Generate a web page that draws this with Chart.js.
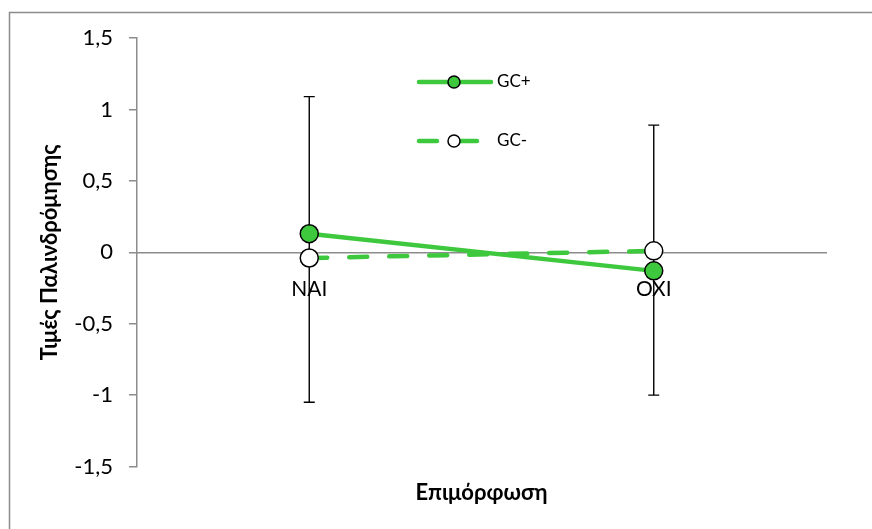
<!DOCTYPE html>
<html>
<head>
<meta charset="utf-8">
<script src="https://cdn.jsdelivr.net/npm/chart.js@4"></script>
<style>
  html, body { margin: 0; padding: 0; background: #fff; overflow: hidden; }
</style>
</head>
<body>
<canvas id="regChart" width="872" height="529"></canvas>
<script>
// values
const categories = ["ΝΑΙ", "ΟΧΙ"];
const gcPlus = [0.13, -0.13];
const gcMinus = [-0.04, 0.01];
const errLow = [-1.05, -1.00];
const errHigh = [1.09, 0.89];
const yTicks = [-1.5, -1, -0.5, 0, 0.5, 1, 1.5];

const green = "#3ec83e";
const axisGrey = "#8c8c8c";
const fontFamily = "Lato, 'Noto Sans', sans-serif";

// grey frame (only top and left edges show in the reference)
const frame = {
  id: "frame",
  beforeDraw(chart) {
    const ctx = chart.ctx;
    ctx.save();
    ctx.strokeStyle = axisGrey;
    ctx.lineWidth = 1.5;
    ctx.beginPath();
    ctx.moveTo(9.5, chart.height);
    ctx.lineTo(9.5, 12.5);
    ctx.lineTo(chart.width, 12.5);
    ctx.stroke();
    ctx.restore();
  }
};

// vertical error bars, one per category
const errorBars = {
  id: "errorBars",
  beforeDatasetsDraw(chart) {
    const { ctx, scales: { x, y } } = chart;
    ctx.save();
    ctx.strokeStyle = "#000";
    ctx.lineWidth = 1.4;
    categories.forEach((c, i) => {
      const px = x.getPixelForValue(i);
      const top = y.getPixelForValue(errHigh[i]);
      const bot = y.getPixelForValue(errLow[i]);
      ctx.beginPath();
      ctx.moveTo(px, top); ctx.lineTo(px, bot);
      ctx.moveTo(px - 5.5, top); ctx.lineTo(px + 5.5, top);
      ctx.moveTo(px - 5.5, bot); ctx.lineTo(px + 5.5, bot);
      ctx.stroke();
    });
    ctx.restore();
  }
};

// legend drawn inside the plot: line with marker, like the original
const lineLegend = {
  id: "lineLegend",
  afterDatasetsDraw(chart) {
    const ctx = chart.ctx;
    const area = chart.chartArea;
    const x0 = area.left + 282, x1 = area.left + 354, mx = area.left + 317;
    const rows = [area.top + 44, area.top + 103];
    ctx.save();
    chart.data.datasets.forEach((ds, i) => {
      const ly = rows[i];
      ctx.strokeStyle = ds.borderColor;
      ctx.lineWidth = ds.borderWidth;
      ctx.lineCap = "round";
      ctx.setLineDash(ds.borderDash || []);
      ctx.beginPath();
      ctx.moveTo(x0, ly); ctx.lineTo(x1, ly);
      ctx.stroke();
      ctx.setLineDash([]);
      ctx.beginPath();
      ctx.arc(mx, ly, 6, 0, Math.PI * 2);
      ctx.fillStyle = ds.pointBackgroundColor;
      ctx.fill();
      ctx.lineWidth = 1.5;
      ctx.strokeStyle = "#000";
      ctx.stroke();
      ctx.fillStyle = "#000";
      ctx.font = "17px " + fontFamily;
      ctx.textBaseline = "middle";
      ctx.fillText(ds.label, area.left + 360, ly);
    });
    ctx.restore();
  }
};

new Chart(document.getElementById("regChart"), {
  type: "line",
  data: {
    labels: categories,
    datasets: [
      {
        label: "GC+",
        data: gcPlus,
        borderColor: green,
        borderWidth: 4.5,
        pointRadius: 9,
        pointBackgroundColor: green,
        pointBorderColor: "#000",
        pointBorderWidth: 1.5
      },
      {
        label: "GC-",
        data: gcMinus,
        borderColor: green,
        borderWidth: 4.5,
        borderDash: [18, 22],
        borderCapStyle: "round",
        pointRadius: 9,
        pointBackgroundColor: "#fff",
        pointBorderColor: "#000",
        pointBorderWidth: 1.5
      }
    ]
  },
  options: {
    responsive: false,
    animation: false,
    layout: { padding: { left: 0, right: 46, top: 38, bottom: 0 } },
    plugins: {
      legend: { display: false },
      tooltip: { enabled: false }
    },
    scales: {
      x: {
        type: "category",
        offset: true,
        position: { y: 0 },
        grid: { display: false, drawTicks: false },
        border: { display: true, color: axisGrey, width: 1.5 },
        ticks: {
          color: "#000",
          padding: 24,
          font: { family: fontFamily, size: 21 }
        }
      },
      // hidden bottom axis that only carries the x title, centred under the plot
      xTitle: {
        type: "category",
        position: "bottom",
        grid: { display: false, drawTicks: false },
        border: { display: false },
        ticks: { display: false },
        title: {
          display: true,
          text: "Επιμόρφωση",
          color: "#000",
          font: { family: fontFamily, size: 22, weight: "bold" },
          padding: { top: 13, bottom: 23 }
        }
      },
      y: {
        min: -1.5,
        max: 1.5,
        afterFit(scale) { scale.width = 137; },
        afterBuildTicks(scale) { scale.ticks = yTicks.map(v => ({ value: v })); },
        grid: { drawOnChartArea: false, drawTicks: true, tickLength: 8, color: axisGrey, lineWidth: 1.5 },
        border: { display: true, color: axisGrey, width: 1.5 },
        ticks: {
          color: "#000",
          padding: 16,
          font: { family: fontFamily, size: 22 },
          callback: v => String(v).replace(".", ",")
        },
        title: {
          display: true,
          text: "Τιμές Παλινδρόμησης",
          color: "#000",
          font: { family: fontFamily, size: 22, weight: "bold" },
          padding: { top: 37, bottom: 0 }
        }
      }
    }
  },
  plugins: [frame, errorBars, lineLegend]
});
</script>
</body>
</html>
